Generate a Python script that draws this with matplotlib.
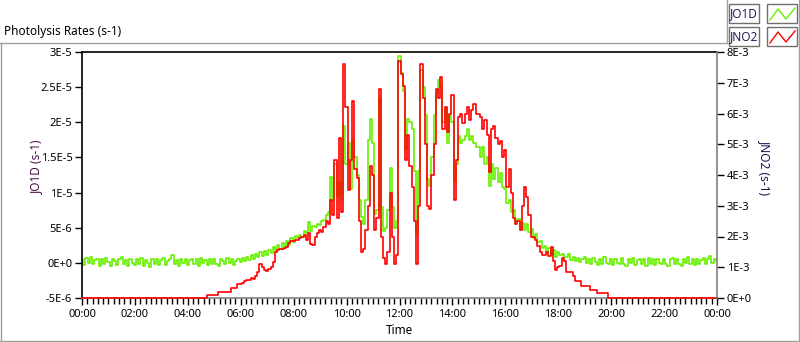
import numpy as np
import matplotlib
matplotlib.use("Agg")
import matplotlib.pyplot as plt
from matplotlib.lines import Line2D
from matplotlib.patches import Rectangle

plt.rcParams['font.family'] = ['Noto Sans', 'DejaVu Sans']

# samples every 5 minutes, 00:00 .. 24:00
minutes = np.arange(0, 24 * 60 + 1, 5)
hours = minutes / 60.0

# JO1D (units of 1E-6 s-1), one row per hour
jo1d_e6 = [
    0.5, -0.3, 0.7, 0.0, 0.8, -0.2, 0.4, 0.6, -0.4, 0.5, -0.1, 0.7,
    0.1, -0.4, 0.6, 0.2, -0.3, 0.5, 0.8, -0.1, 0.4, -0.5, 0.6, 0.0,
    -0.3, 0.5, -0.1, 0.7, -0.4, 0.4, 0.0, -0.6, 0.5, -0.1, 0.6, -0.3,
    0.4, 0.7, -0.3, 0.2, 0.5, 1.1, -0.1, 0.4, -0.4, 0.6, 0.0, 0.5,
    -0.3, 0.4, 0.6, -0.1, 0.5, -0.5, 0.7, 0.0, 0.4, -0.3, 0.6, -0.1,
    0.5, -0.1, -0.4, 0.6, 0.2, -0.2, 0.7, 0.0, 0.5, -0.3, 0.3, 0.6,
    0.1, 0.7, 0.2, 0.9, 0.4, 1.1, 0.6, 1.3, 0.8, 1.5, 1.0, 1.7,
    1.1, 1.9, 1.4, 2.2, 1.6, 2.5, 2.0, 2.8, 2.3, 3.1, 2.6, 3.5,
    3.0, 3.8, 3.5, 3.9, 3.7, 4.6, 4.3, 5.8, 4.6, 5.3, 5.1, 5.5,
    5.4, 5.9, 6.1, 6.8, 7.2, 12.2, 9.0, 14.0, 9.5, 11.5, 9.0, 19.5,
    14.0, 17.0, 10.5, 17.5, 15.0, 12.5, 9.0, 6.5, 5.5, 9.0, 17.5, 20.5,
    17.0, 7.0, 7.5, 23.5, 8.0, 4.5, 5.0, 7.5, 13.5, 8.0, 5.0, 6.0,
    29.5, 27.0, 24.5, 16.0, 20.5, 20.0, 19.0, 13.0, 4.0, 13.0, 27.5, 25.0,
    21.0, 12.0, 11.0, 15.0, 21.0, 24.0, 26.0, 25.0, 20.0, 22.0, 17.0, 21.0,
    20.0, 11.5, 14.0, 18.0, 17.0, 17.5, 18.0, 19.0, 17.5, 18.0, 17.0, 16.5,
    16.5, 15.0, 16.5, 14.0, 15.0, 11.0, 14.0, 12.0, 13.5, 11.5, 12.8, 10.8,
    10.5, 8.5, 9.0, 7.2, 7.5, 6.0, 6.3, 4.8, 5.6, 4.7, 5.5, 4.4,
    4.8, 3.6, 4.1, 3.0, 3.1, 2.1, 2.4, 1.5, 2.1, 1.1, 1.9, 0.9,
    1.5, 1.1, 1.2, 0.9, 0.8, 1.2, 0.4, 0.9, 0.3, 0.7, 0.1, 0.5,
    0.8, 0.0, 0.6, -0.2, 0.7, 0.1, -0.3, 0.6, -0.1, 0.8, 0.0, -0.2,
    0.5, -0.3, 0.6, 0.0, -0.2, 0.7, -0.1, -0.4, 0.5, 0.0, 0.7, -0.3,
    0.4, 0.6, -0.2, 0.5, -0.4, 0.7, -0.1, 0.5, -0.3, 0.6, 0.0, -0.2,
    0.6, -0.1, -0.4, 0.5, 0.7, -0.2, 0.5, -0.1, -0.5, 0.6, 0.0, 0.8,
    -0.1, 0.5, -0.3, 0.6, -0.2, 0.4, 0.7, -0.1, 0.5, 1.0, 0.0, 0.6,
    0.3,
]

# JNO2 (units of 1E-3 s-1), one row per hour
jno2_e3 = [
    0, 0, 0, 0, 0, 0, 0, 0, 0, 0, 0, 0,
    0, 0, 0, 0, 0, 0, 0, 0, 0, 0, 0, 0,
    0, 0, 0, 0, 0, 0, 0, 0, 0, 0, 0, 0,
    0, 0, 0, 0, 0, 0, 0, 0, 0, 0, 0, 0,
    0, 0, 0, 0, 0, 0, 0, 0, 0, 0.09, 0.09, 0.09,
    0.09, 0.09, 0.2, 0.2, 0.2, 0.2, 0.2, 0.2, 0.31, 0.31, 0.31, 0.45,
    0.45, 0.5, 0.55, 0.58, 0.6, 0.65, 0.62, 0.7, 0.85, 1.1, 1.0, 0.9,
    0.88, 0.95, 1.0, 1.18, 1.5, 1.56, 1.6, 1.58, 1.62, 1.65, 1.8, 1.85,
    1.85, 1.9, 1.88, 1.95, 2.0, 2.05, 1.9, 2.1, 1.75, 1.72, 2.0, 2.1,
    2.2, 2.15, 2.3, 2.5, 2.4, 3.2, 2.7, 4.5, 2.6, 5.2, 2.8, 7.6,
    6.2, 3.5, 4.5, 6.4, 4.2, 3.9, 2.5, 1.5, 1.6, 2.2, 3.0, 4.3,
    4.0, 2.2, 2.6, 6.8, 2.0, 1.3, 1.1, 1.5, 3.4, 2.0, 1.1, 1.4,
    7.7, 7.3, 6.9, 4.5, 5.3, 4.3, 3.6, 2.5, 1.1, 3.0, 7.6, 6.5,
    5.0, 3.0, 2.9, 4.0, 5.0, 6.8, 6.5, 7.2, 5.5, 6.2, 5.4, 6.0,
    6.6, 3.2, 4.5, 5.9, 6.0, 5.7, 6.0, 6.2, 5.8, 6.1, 6.3, 6.0,
    6.0, 5.9, 5.5, 5.8, 5.3, 4.1, 5.5, 5.6, 5.2, 5.0, 5.1, 4.6,
    4.8, 3.6, 4.2, 3.4, 2.6, 2.4, 2.5, 2.2, 3.0, 3.6, 3.3, 2.7,
    2.0, 2.0, 1.9, 1.7, 1.5, 1.4, 1.4, 1.5, 1.35, 1.65, 1.2, 0.92,
    1.0, 1.05, 1.3, 1.2, 0.85, 0.85, 0.83, 0.7, 0.55, 0.55, 0.55, 0.4,
    0.4, 0.4, 0.4, 0.26, 0.26, 0.26, 0.15, 0.15, 0.15, 0.15, 0.15, 0,
    0, 0, 0, 0, 0, 0, 0, 0, 0, 0, 0, 0,
    0, 0, 0, 0, 0, 0, 0, 0, 0, 0, 0, 0,
    0, 0, 0, 0, 0, 0, 0, 0, 0, 0, 0, 0,
    0, 0, 0, 0, 0, 0, 0, 0, 0, 0, 0, 0,
    0,
]

x_ticks = [0, 2, 4, 6, 8, 10, 12, 14, 16, 18, 20, 22, 24]
x_labels = ['00:00', '02:00', '04:00', '06:00', '08:00', '10:00', '12:00',
            '14:00', '16:00', '18:00', '20:00', '22:00', '00:00']
left_ticks = [-5e-6, 0, 5e-6, 1e-5, 1.5e-5, 2e-5, 2.5e-5, 3e-5]
left_labels = ['-5E-6', '0E+0', '5E-6', '1E-5', '1.5E-5', '2E-5', '2.5E-5', '3E-5']
right_ticks = [0, 1e-3, 2e-3, 3e-3, 4e-3, 5e-3, 6e-3, 7e-3, 8e-3]
right_labels = ['0E+0', '1E-3', '2E-3', '3E-3', '4E-3', '5E-3', '6E-3', '7E-3', '8E-3']

GREEN = '#66f000'
RED = '#ff0000'
GREY = '#a0a0a0'

W, H = 800, 342
fig = plt.figure(figsize=(W / 100, H / 100), dpi=100)
fig.patch.set_facecolor('white')


def fx(px):
    return px / W


def fy(py):
    return 1 - py / H


ax = fig.add_axes([fx(82), fy(298), fx(717) - fx(82), fy(52) - fy(298)])
ax.plot(hours, np.array(jo1d_e6) * 1e-6, color=GREEN, lw=1.2, drawstyle='steps-mid')
ax.set_xlim(0, 24)
ax.set_ylim(-5e-6, 3e-5)
ax.set_xticks(x_ticks)
ax.set_xticklabels(x_labels)
ax.set_xticks(np.arange(0, 24.01, 0.2), minor=True)
ax.set_yticks(left_ticks)
ax.set_yticklabels(left_labels)

ax2 = ax.twinx()
ax2.plot(hours, np.array(jno2_e3) * 1e-3, color=RED, lw=1.2,
         drawstyle='steps-mid', clip_on=False)
ax2.set_ylim(0, 8e-3)
ax2.set_yticks(right_ticks)
ax2.set_yticklabels(right_labels)

for s in ['top', 'left']:
    ax.spines[s].set_color('black')
    ax.spines[s].set_linewidth(1.2)
ax.spines['bottom'].set_color('#808080')
ax.spines['bottom'].set_linewidth(1.2)
ax.spines['right'].set_visible(False)
for s in ['top', 'left', 'bottom']:
    ax2.spines[s].set_visible(False)
ax2.spines['right'].set_color('#808080')
ax2.spines['right'].set_linewidth(1.2)

ax.tick_params(axis='y', direction='out', length=5, width=1, pad=2, labelsize=8, colors='black')
ax.tick_params(axis='x', which='major', direction='out', length=5, width=1, pad=3, labelsize=8)
ax.tick_params(axis='x', which='minor', direction='out', length=4, width=1)
ax2.tick_params(axis='y', direction='out', length=5, width=1, pad=2, labelsize=8)

# titles and axis labels
fig.text(fx(4), fy(35), 'Photolysis Rates (s-1)', fontsize=8.5, va='baseline', ha='left')
fig.text(fx(36), fy(167), 'JO1D (s-1)', fontsize=8.5, rotation=90,
         ha='center', va='center', color='#4a1048')
fig.text(fx(765), fy(167), 'JNO2 (s-1)', fontsize=8.5, rotation=270,
         ha='center', va='center', color='#141450')
fig.text(fx(400), fy(330), 'Time', fontsize=8.5, ha='center', va='center')

# outer chart frame
frame = [([0, 727], [43, 43]), ([0.5, 0.5], [43, 341]), ([0, 799], [341, 341]),
         ([798.5, 798.5], [0, 341]), ([727, 727], [0, 43])]
for xs, ys in frame:
    fig.add_artist(Line2D([fx(v) for v in xs], [fy(v) for v in ys],
                          color=GREY, lw=1, transform=fig.transFigure))

# legend (plot names and line swatches)
legend_rows = [('JO1D', GREEN, 4), ('JNO2', RED, 27)]
for name, col, top in legend_rows:
    fig.add_artist(Rectangle((fx(729), fy(top + 19)), fx(759) - fx(729), 19 / H,
                             fill=False, edgecolor='#707070', lw=1, transform=fig.transFigure))
    fig.add_artist(Rectangle((fx(767), fy(top + 19)), fx(797) - fx(767), 19 / H,
                             fill=False, edgecolor='#707070', lw=1, transform=fig.transFigure))
    fig.text(fx(744), fy(top + 9.5), name, fontsize=8.5, ha='center', va='center', color='#20205a')
    zx = [770, 778, 786, 795]
    zy = [top + 16, top + 5, top + 15, top + 4]
    fig.add_artist(Line2D([fx(v) for v in zx], [fy(v) for v in zy],
                          color=col, lw=1, transform=fig.transFigure))

fig.savefig('out.png', dpi=100, facecolor='white')
